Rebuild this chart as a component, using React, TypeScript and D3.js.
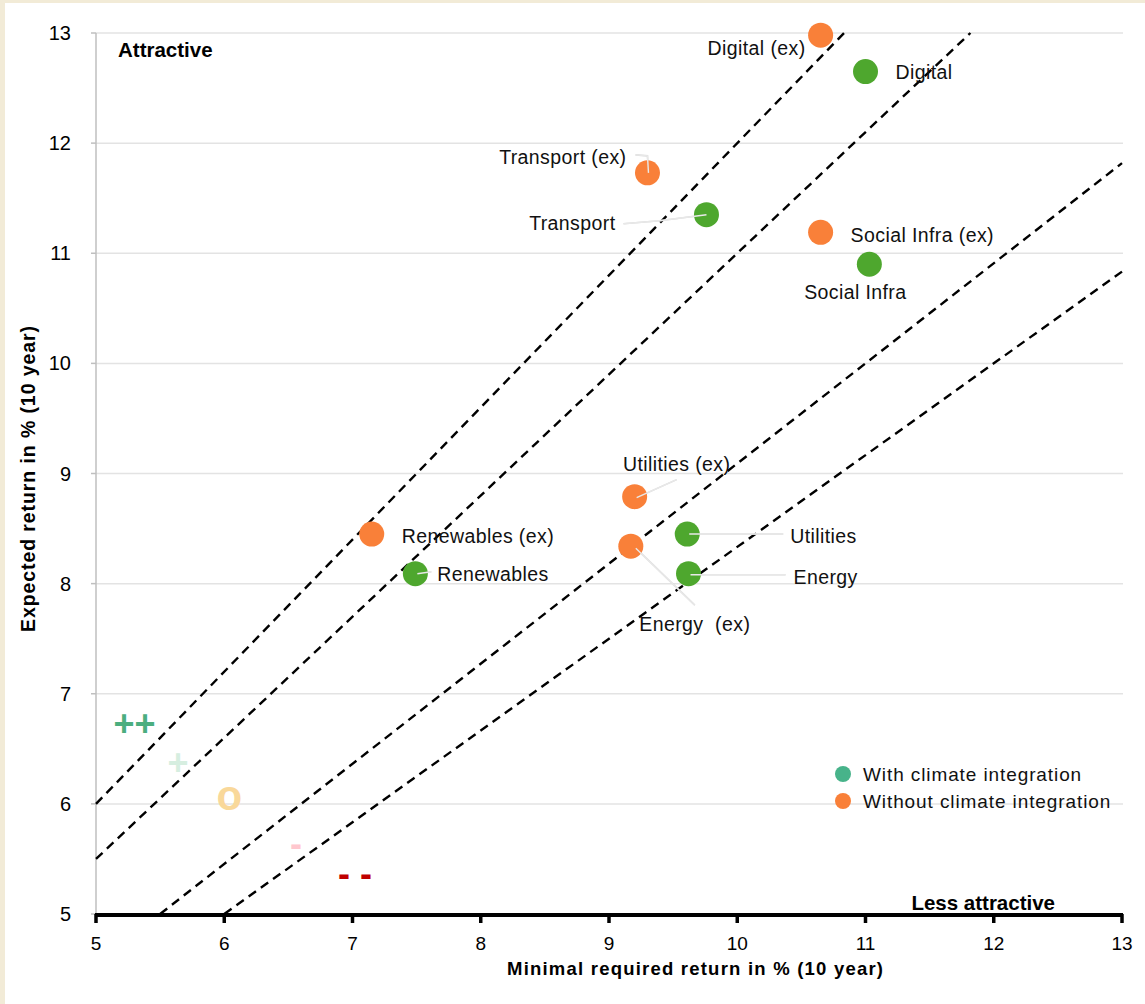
import React from "react";
import * as d3 from "d3";

// ---- data ----
const xTicks = [5, 6, 7, 8, 9, 10, 11, 12, 13];
const yTicks = [5, 6, 7, 8, 9, 10, 11, 12, 13];

const sectors = ["Digital", "Transport", "Social Infra", "Utilities", "Energy", "Renewables"];
const withClimateX = [11.0, 9.76, 11.03, 9.61, 9.62, 7.49];
const withClimateY = [12.65, 11.35, 10.9, 8.45, 8.09, 8.09];
const withoutClimateX = [10.65, 9.3, 10.65, 9.2, 9.17, 7.15];
const withoutClimateY = [12.98, 11.73, 11.19, 8.79, 8.34, 8.45];

// boundary lines y = ratio * x
const boundaryRatios = [1.2, 1.1, 1 / 1.1, 1 / 1.2];

// zone symbols
const zoneSymbols = ["++", "+", "o", "-", "- -"];
const zoneX = [5.3, 5.64, 6.04, 6.56, 7.02];
const zoneY = [6.73, 6.38, 6.08, 5.64, 5.37];

const legendLabels = ["With climate integration", "Without climate integration"];

// ---- layout / styles ----
const W = 1145;
const H = 1004;
const M = { left: 96, right: 1122, top: 33, bottom: 914 };
const GREEN = "#4EA72E";
const ORANGE = "#F98039";
const LEGEND_GREEN = "#47B38A";
const zoneColors = ["#4BAE7F", "#D6EEE0", "#F9D89A", "#FFC7CE", "#C00000"];
const zoneSizes = [36, 36, 42, 36, 36];
const FONT = "'Liberation Sans', Arial, sans-serif";

type Lab = { dx: number; dy: number; anchor: string; leader?: [number, number][] };
const labelLayout: Record<string, Lab> = {
  "Digital (ex)": { dx: -15, dy: 13, anchor: "end" },
  Digital: { dx: 30, dy: 1, anchor: "start" },
  "Transport (ex)": { dx: -21, dy: -16, anchor: "end", leader: [[-12, -18], [0, -17], [1, 0]] },
  Transport: { dx: -91, dy: 8, anchor: "end", leader: [[-83, 9], [-47, 6], [0, 0]] },
  "Social Infra (ex)": { dx: 30, dy: 3, anchor: "start" },
  "Social Infra": { dx: -14, dy: 28, anchor: "middle" },
  "Utilities (ex)": { dx: 42, dy: -32, anchor: "middle", leader: [[42, -17], [2, 1]] },
  Utilities: { dx: 103, dy: 2, anchor: "start", leader: [[2, 0], [96, 0]] },
  "Energy (ex)": { dx: 64, dy: 78, anchor: "middle", leader: [[5, 2], [64, 59]] },
  Energy: { dx: 105, dy: 3, anchor: "start", leader: [[2, 1], [97, 1]] },
  "Renewables (ex)": { dx: 30, dy: 2, anchor: "start" },
  Renewables: { dx: 22, dy: 0, anchor: "start", leader: [[2, 0], [16, -2]] },
};

export default function App() {
  const x = d3.scaleLinear().domain([5, 13]).range([M.left, M.right]);
  const y = d3.scaleLinear().domain([5, 13]).range([M.bottom, M.top]);
  const line = d3
    .line<[number, number]>()
    .x((d) => x(d[0]))
    .y((d) => y(d[1]));

  const points = [
    ...sectors.map((s, i) => ({ name: s, cx: withClimateX[i], cy: withClimateY[i], color: GREEN })),
    ...sectors.map((s, i) => ({ name: s + " (ex)", cx: withoutClimateX[i], cy: withoutClimateY[i], color: ORANGE })),
  ];

  const leaderLine = d3.line<[number, number]>();

  return (
    <div style={{ position: "absolute", left: 0, top: 0, width: W, height: H }}>
      <svg width={W} height={H} style={{ display: "block", fontFamily: FONT }}>
        <rect x={0} y={0} width={W} height={H} fill="#ffffff" />
        <rect x={0} y={0} width={5} height={H} fill="#F2EBD7" />
        <rect x={0} y={0} width={W} height={3} fill="#F2EBD7" />

        {/* gridlines */}
        {yTicks.filter((t) => t > 5).map((t) => (
          <line key={"g" + t} x1={M.left} x2={M.right + 1} y1={y(t)} y2={y(t)} stroke="#E3E3E3" strokeWidth={1.5} />
        ))}

        {/* y axis */}
        <line x1={M.left} x2={M.left} y1={M.top} y2={M.bottom} stroke="#BFBFBF" strokeWidth={1.5} />
        {yTicks.map((t) => (
          <g key={"yt" + t}>
            <line x1={M.left - 5} x2={M.left} y1={y(t)} y2={y(t)} stroke="#BFBFBF" strokeWidth={1.5} />
            <text x={71} y={y(t)} dy="0.35em" textAnchor="end" fontSize={20} fill="#000">
              {t}
            </text>
          </g>
        ))}

        {/* boundary lines */}
        {boundaryRatios.map((r, i) => {
          const x0 = Math.max(5, 5 / r);
          const x1 = Math.min(13, 13 / r);
          return (
            <path
              key={"b" + i}
              d={line([[x0, r * x0], [x1, r * x1]]) || ""}
              fill="none"
              stroke="#000"
              strokeWidth={2.4}
              strokeDasharray="9,6"
            />
          );
        })}

        {/* x axis */}
        <line x1={M.left - 1} x2={M.right + 1} y1={y(5) + 1} y2={y(5) + 1} stroke="#000" strokeWidth={4} />
        {xTicks.map((t) => (
          <g key={"xt" + t}>
            <line x1={x(t)} x2={x(t)} y1={y(5)} y2={y(5) + 9} stroke="#000" strokeWidth={3.5} />
            <text x={x(t)} y={950} textAnchor="middle" fontSize={19} fill="#000">
              {t}
            </text>
          </g>
        ))}

        {/* zone symbols */}
        {zoneSymbols.map((s, i) => (
          <text
            key={"z" + i}
            x={x(zoneX[i])}
            y={y(zoneY[i])}
            dy="0.35em"
            textAnchor="middle"
            fontSize={zoneSizes[i]}
            fontWeight="bold"
            fill={zoneColors[i]}
            style={{ whiteSpace: "pre" }}
          >
            {s}
          </text>
        ))}

        {/* leader lines */}
        {points.map((p) => {
          const l = labelLayout[p.name];
          if (!l || !l.leader) return null;
          const px = x(p.cx);
          const py = y(p.cy);
          return (
            <path
              key={"l" + p.name}
              d={leaderLine(l.leader.map((d) => [px + d[0], py + d[1]] as [number, number])) || ""}
              fill="none"
              stroke="#D9D9D9"
              strokeWidth={1.6}
            />
          );
        })}

        {/* points */}
        {points.map((p) => (
          <circle key={"c" + p.name} cx={x(p.cx)} cy={y(p.cy)} r={12.5} fill={p.color} />
        ))}

        {/* leader lines over points (inner part) */}
        {points.map((p) => {
          const l = labelLayout[p.name];
          if (!l || !l.leader) return null;
          const px = x(p.cx);
          const py = y(p.cy);
          return (
            <path
              key={"l2" + p.name}
              d={leaderLine(l.leader.map((d) => [px + d[0], py + d[1]] as [number, number])) || ""}
              fill="none"
              stroke="#E8E8E8"
              strokeWidth={1.4}
            />
          );
        })}

        {/* labels */}
        {points.map((p) => {
          const l = labelLayout[p.name];
          return (
            <text
              key={"t" + p.name}
              x={x(p.cx) + l.dx}
              y={y(p.cy) + l.dy}
              dy="0.35em"
              textAnchor={l.anchor}
              fontSize={19.5}
              letterSpacing={0.4}
              fill="#111"
              style={{ whiteSpace: "pre" }}
            >
              {p.name === "Energy (ex)" ? "Energy  (ex)" : p.name}
            </text>
          );
        })}

        {/* corner annotations */}
        <text x={118} y={57} fontSize={20.5} fontWeight="bold" fill="#000">
          Attractive
        </text>
        <text x={1055} y={910} textAnchor="end" fontSize={20.5} fontWeight="bold" fill="#000">
          Less attractive
        </text>

        {/* legend */}
        {legendLabels.map((lab, i) => (
          <g key={"lg" + i} transform={`translate(843, ${774 + i * 27})`}>
            <circle cx={0} cy={0} r={8} fill={i === 0 ? LEGEND_GREEN : ORANGE} />
            <text x={20} y={0} dy="0.35em" fontSize={19} letterSpacing={0.9} fill="#111">
              {lab}
            </text>
          </g>
        ))}

        {/* axis titles */}
        <text x={695} y={975} textAnchor="middle" fontSize={18.5} fontWeight="bold" fill="#000" textLength={376} lengthAdjust="spacing">
          Minimal required return in % (10 year)
        </text>
        <text
          transform="translate(35, 479) rotate(-90)"
          textAnchor="middle"
          fontSize={19.5}
          fontWeight="bold"
          fill="#000"
          textLength={306}
          lengthAdjust="spacing"
        >
          Expected return in % (10 year)
        </text>
      </svg>
    </div>
  );
}
